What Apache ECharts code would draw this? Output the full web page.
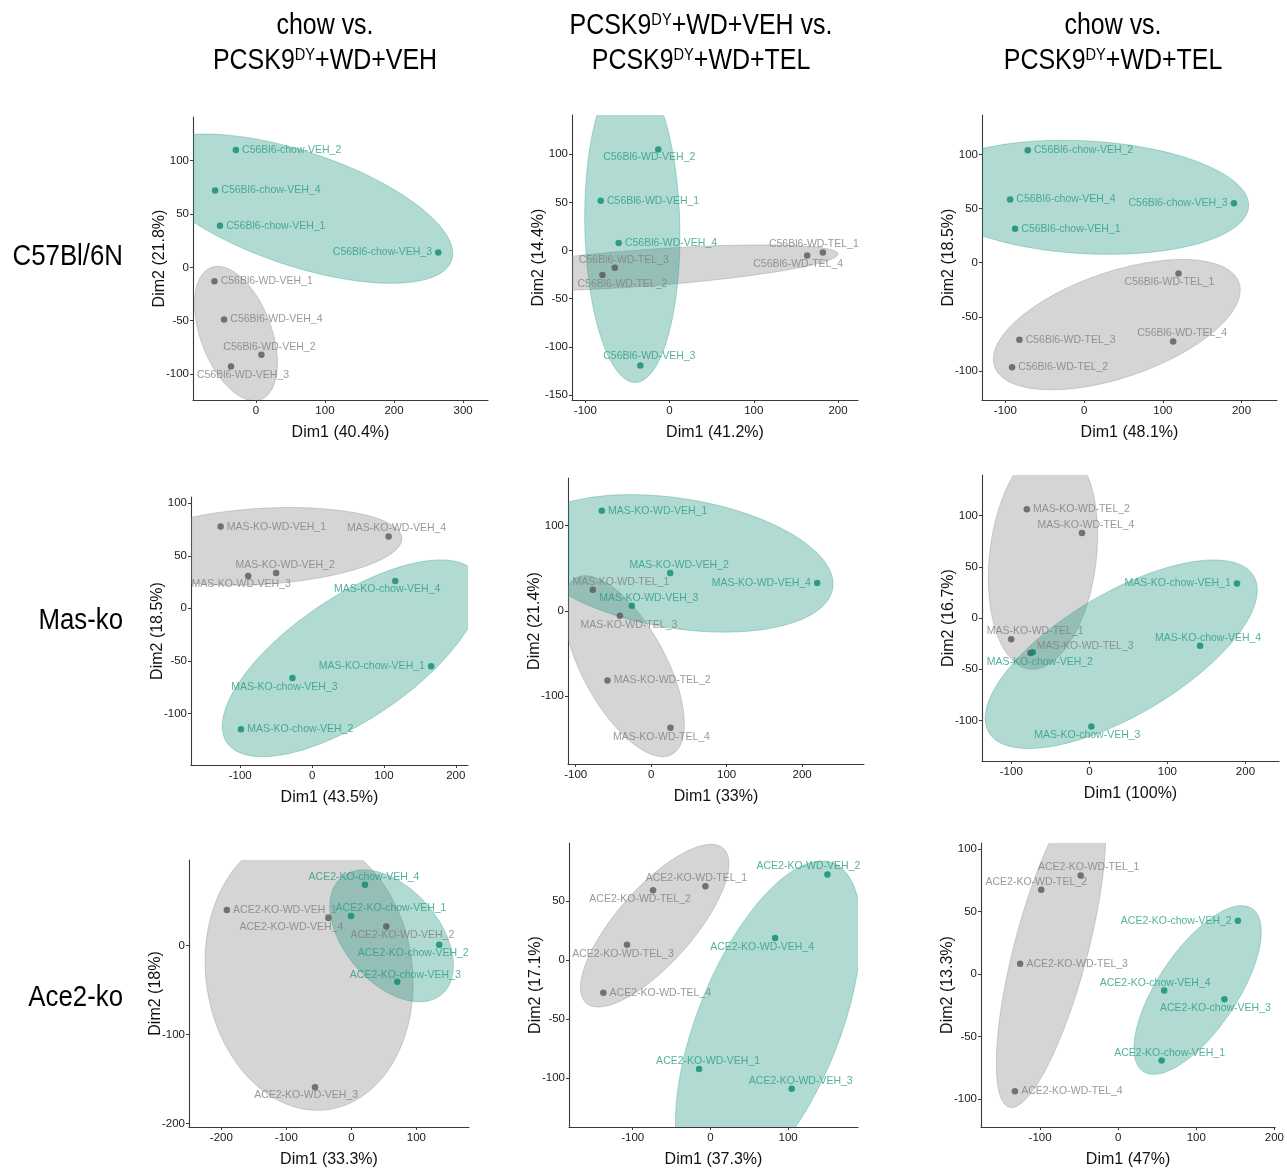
<!DOCTYPE html>
<html>
<head>
<meta charset="utf-8">
<title>PCA individuals</title>
<script src="https://cdn.jsdelivr.net/npm/echarts@6/dist/echarts.min.js"></script>
<style>
html, body { margin: 0; padding: 0; background: #fff; }
#chart { width: 1287px; height: 1169px; }
</style>
</head>
<body>
<div id="chart"></div>
<script>
// ---------- data ----------
// group: 1 = teal condition, 0 = grey condition
// ellipses: [cx, cy, rx, ry, rho, group]  (data units; rho sets the tilt)

// row 1, C57Bl/6N
const p1Names = ['C56Bl6-chow-VEH_2', 'C56Bl6-chow-VEH_4', 'C56Bl6-chow-VEH_1', 'C56Bl6-chow-VEH_3', 'C56Bl6-WD-VEH_1', 'C56Bl6-WD-VEH_4', 'C56Bl6-WD-VEH_2', 'C56Bl6-WD-VEH_3'];
const p1X = [-29, -59, -52, 264, -60, -46, 8, -36];
const p1Y = [110, 72, 39, 14, -13, -49, -82, -93];
const p1Group = [1, 1, 1, 1, 0, 0, 0, 0];
const p1Ellipses = [[-28.8, -62, 60, 63, -0.44, 0], [61.5, 55, 223.5, 70, -0.6, 1]];

const p2Names = ['C56Bl6-WD-VEH_2', 'C56Bl6-WD-VEH_1', 'C56Bl6-WD-VEH_4', 'C56Bl6-WD-VEH_3', 'C56Bl6-WD-TEL_1', 'C56Bl6-WD-TEL_4', 'C56Bl6-WD-TEL_3', 'C56Bl6-WD-TEL_2'];
const p2X = [-13.4, -81.7, -60.4, -34.7, 182, 163.4, -65, -79.7];
const p2Y = [104.8, 51.7, 7.9, -119.3, -2, -5.2, -18, -25.5];
const p2Group = [1, 1, 1, 1, 0, 0, 0, 0];
const p2Ellipses = [[-30, -18.1, 230, 23.9, 0.607, 0], [-44.2, 25, 56.5, 162, -0.06, 1]];

const p3Names = ['C56Bl6-chow-VEH_2', 'C56Bl6-chow-VEH_4', 'C56Bl6-chow-VEH_1', 'C56Bl6-chow-VEH_3', 'C56Bl6-WD-TEL_1', 'C56Bl6-WD-TEL_4', 'C56Bl6-WD-TEL_3', 'C56Bl6-WD-TEL_2'];
const p3X = [-71.6, -94, -87.7, 190.3, 119.9, 113.1, -82.2, -91.5];
const p3Y = [103.9, 58.3, 31.4, 54.9, -9.9, -72.7, -71.2, -96.5];
const p3Group = [1, 1, 1, 1, 0, 0, 0, 0];
const p3Ellipses = [[41.5, -57.2, 156.8, 60.2, 0.53, 0], [2, 60.4, 207, 52.7, -0.14, 1]];

// row 2, Mas-ko
const p4Names = ['MAS-KO-WD-VEH_1', 'MAS-KO-WD-VEH_4', 'MAS-KO-WD-VEH_2', 'MAS-KO-WD-VEH_3', 'MAS-KO-chow-VEH_4', 'MAS-KO-chow-VEH_1', 'MAS-KO-chow-VEH_3', 'MAS-KO-chow-VEH_2'];
const p4X = [-127.3, 106.5, -50, -88.9, 115.7, 165.7, -27.3, -99];
const p4Y = [77.8, 68.3, 33.7, 30.8, 26, -55.2, -66.3, -115.2];
const p4Group = [0, 0, 0, 0, 1, 1, 1, 1];
const p4Ellipses = [[-70, 59, 195, 37, 0.2, 0], [55, -47.6, 180, 93.7, 0.69, 1]];

const p5Names = ['MAS-KO-WD-VEH_1', 'MAS-KO-WD-VEH_2', 'MAS-KO-WD-VEH_4', 'MAS-KO-WD-VEH_3', 'MAS-KO-WD-TEL_1', 'MAS-KO-WD-TEL_3', 'MAS-KO-WD-TEL_2', 'MAS-KO-WD-TEL_4'];
const p5X = [-65.4, 25.2, 220, -25.6, -77.3, -41.5, -57.9, 25.6];
const p5Y = [117.6, 44.3, 32.5, 5.9, 24.7, -5.9, -82, -137.3];
const p5Group = [1, 1, 1, 1, 0, 0, 0, 0];
const p5Ellipses = [[-36, -65.1, 80, 106.3, -0.64, 0], [35, 55.7, 206, 80.8, -0.3, 1]];

const p6Names = ['MAS-KO-WD-TEL_2', 'MAS-KO-WD-TEL_4', 'MAS-KO-WD-TEL_1', 'MAS-KO-WD-TEL_3', 'MAS-KO-chow-VEH_1', 'MAS-KO-chow-VEH_4', 'MAS-KO-chow-VEH_2', 'MAS-KO-chow-VEH_3'];
const p6X = [-80.1, -9.4, -100.1, -75.4, 189.2, 141.9, -72.4, 2.6];
const p6Y = [106.2, 83, -20.8, -34.2, 33.6, -27, -33.5, -105.9];
const p6Group = [0, 0, 0, 0, 1, 1, 1, 1];
const p6Ellipses = [[-59.4, 60, 70, 110, 0.19, 0], [40.9, -35.4, 174.3, 92.1, 0.68, 1]];

// row 3, Ace2-ko
const p7Names = ['ACE2-KO-WD-VEH_1', 'ACE2-KO-WD-VEH_4', 'ACE2-KO-WD-VEH_2', 'ACE2-KO-WD-VEH_3', 'ACE2-KO-chow-VEH_4', 'ACE2-KO-chow-VEH_1', 'ACE2-KO-chow-VEH_2', 'ACE2-KO-chow-VEH_3'];
const p7X = [-191.5, -35.3, 53.8, -55.8, 21, -0.5, 135.2, 70.7];
const p7Y = [40, 31.1, 21.5, -158.9, 68.5, 33.3, 1.1, -40.4];
const p7Group = [0, 0, 0, 0, 1, 1, 1, 1];
const p7Ellipses = [[-65, -30, 160, 155, -0.08, 0], [62, 11.1, 95, 74.1, -0.45, 1]];

const p8Names = ['ACE2-KO-WD-TEL_1', 'ACE2-KO-WD-TEL_2', 'ACE2-KO-WD-TEL_3', 'ACE2-KO-WD-TEL_4', 'ACE2-KO-WD-VEH_2', 'ACE2-KO-WD-VEH_4', 'ACE2-KO-WD-VEH_1', 'ACE2-KO-WD-VEH_3'];
const p8X = [-6.4, -73.8, -107.3, -137.8, 150.6, 83.3, -14.6, 104.7];
const p8Y = [62.6, 59.2, 13.1, -27.7, 72.6, 18.7, -92.2, -108.9];
const p8Group = [0, 0, 0, 0, 1, 1, 1, 1];
const p8Ellipses = [[-71.7, 29.2, 95.5, 68.9, 0.76, 0], [74.5, -56, 119.4, 140, 0.578, 1]];

const p9Names = ['ACE2-KO-WD-TEL_1', 'ACE2-KO-WD-TEL_2', 'ACE2-KO-WD-TEL_3', 'ACE2-KO-WD-TEL_4', 'ACE2-KO-chow-VEH_2', 'ACE2-KO-chow-VEH_4', 'ACE2-KO-chow-VEH_3', 'ACE2-KO-chow-VEH_1'];
const p9X = [-48, -98.5, -125.5, -132.2, 153.3, 58.9, 136, 55.6];
const p9Y = [79, 67.6, 8.2, -93.9, 42.6, -13.3, -20.2, -69.4];
const p9Group = [0, 0, 0, 0, 1, 1, 1, 1];
const p9Ellipses = [[-86, 20, 70, 127, 0.72, 0], [101.7, -12.8, 81.5, 67.6, 0.69, 1]];

// axis titles, ranges and tick labels
const xNames = ['Dim1 (40.4%)', 'Dim1 (41.2%)', 'Dim1 (48.1%)', 'Dim1 (43.5%)', 'Dim1 (33%)', 'Dim1 (100%)', 'Dim1 (33.3%)', 'Dim1 (37.3%)', 'Dim1 (47%)'];
const yNames = ['Dim2 (21.8%)', 'Dim2 (14.4%)', 'Dim2 (18.5%)', 'Dim2 (18.5%)', 'Dim2 (21.4%)', 'Dim2 (16.7%)', 'Dim2 (18%)', 'Dim2 (17.1%)', 'Dim2 (13.3%)'];
const xRanges = [[-91, 336], [-115.8, 223.7], [-129.7, 245], [-168.5, 217], [-110.2, 282], [-137.5, 243], [-249.7, 181], [-182, 190], [-175.6, 201]];
const yRanges = [[-124.4, 141], [-155.2, 140.7], [-126.8, 136.4], [-149.2, 106], [-180, 156], [-139.7, 139.7], [-203.7, 96.3], [-141.3, 99.2], [-122.6, 105]];
const xTicks = [[0, 100, 200, 300], [-100, 0, 100, 200], [-100, 0, 100, 200], [-100, 0, 100, 200], [-100, 0, 100, 200], [-100, 0, 100, 200], [-200, -100, 0, 100], [-100, 0, 100], [-100, 0, 100, 200]];
const yTicks = [[-100, -50, 0, 50, 100], [-150, -100, -50, 0, 50, 100], [-100, -50, 0, 50, 100], [-100, -50, 0, 50, 100], [-100, 0, 100], [-100, -50, 0, 50, 100], [-200, -100, 0], [-100, -50, 0, 50], [-100, -50, 0, 50, 100]];

const colTitles = [['chow vs.', 'PCSK9{s|DY}+WD+VEH'], ['PCSK9{s|DY}+WD+VEH vs.', 'PCSK9{s|DY}+WD+TEL'], ['chow vs.', 'PCSK9{s|DY}+WD+TEL']];
const rowTitles = ['C57Bl/6N', 'Mas-ko', 'Ace2-ko'];

// ---------- layout / style ----------
const FONT = "'Liberation Sans', Arial, sans-serif";
const NARROW = 0.86; // squeeze headings to look like the condensed face of the original
const DOT = ['#575757', '#0c8a6f'];
const TEXT = ['#7f7f7f', '#2a9c84'];
const FILL = ['rgba(140,140,140,0.37)', 'rgba(26,150,124,0.34)'];
const EDGE = ['rgba(110,110,110,0.35)', 'rgba(26,150,124,0.4)'];

// plot boxes [left, top, right, bottom] in px
const boxes = [
    [193, 117, 488, 400], [572, 115, 858, 400], [982, 115, 1277, 400],
    [191, 497, 468, 765], [568, 478, 864, 764], [982, 475, 1279, 761],
    [189, 860, 469, 1130], [569, 843, 858, 1130], [981, 843, 1278, 1128]
];

// label placement: ['r'] right, ['l'] left, ['r', dy], ['c', dx, dy] centred + offset
const places = [
    [['r'], ['r'], ['r'], ['l'], ['r'], ['r'], ['c', 8, -8], ['c', 12, 9]],
    [['c', -9, 8], ['r'], ['r'], ['c', 9, -9], ['c', -9, -8], ['c', -9, 9], ['c', 9, -8], ['c', 20, 9]],
    [['r'], ['r'], ['r'], ['l'], ['c', -9, 9], ['c', 9, -8], ['r'], ['r']],
    [['r'], ['c', 8, -8], ['c', 9, -8], ['c', -7, 8], ['c', -8, 8], ['l'], ['c', -8, 9], ['r']],
    [['r'], ['c', 9, -8], ['l'], ['c', 17, -8], ['c', 28, -8], ['c', 9, 9], ['r'], ['c', -9, 9]],
    [['r'], ['c', 4, -8], ['c', 24, -8], ['r', -7], ['l'], ['c', 8, -8], ['c', 7, 10], ['c', -4, 9]],
    [['r'], ['c', -37, 9], ['c', 16, 9], ['c', -9, 8], ['c', -1, -8], ['c', 40, -8], ['c', -26, 8], ['c', 8, -7]],
    [['c', -9, -8], ['c', -13, 9], ['c', -4, 9], ['r'], ['c', -19, -8], ['c', -13, 9], ['c', 9, -8], ['c', 9, -8]],
    [['c', 8, -8], ['c', -5, -8], ['r'], ['r'], ['l'], ['c', -9, -8], ['c', -9, 9], ['c', 8, -8]]
];

const panels = [
    [p1Names, p1X, p1Y, p1Group, p1Ellipses],
    [p2Names, p2X, p2Y, p2Group, p2Ellipses],
    [p3Names, p3X, p3Y, p3Group, p3Ellipses],
    [p4Names, p4X, p4Y, p4Group, p4Ellipses],
    [p5Names, p5X, p5Y, p5Group, p5Ellipses],
    [p6Names, p6X, p6Y, p6Group, p6Ellipses],
    [p7Names, p7X, p7Y, p7Group, p7Ellipses],
    [p8Names, p8X, p8Y, p8Group, p8Ellipses],
    [p9Names, p9X, p9Y, p9Group, p9Ellipses]
];

function labelFor(p, g) {
    const base = {
        show: true, formatter: '{b}', color: TEXT[g],
        fontSize: 10.5, fontFamily: FONT
    };
    if (p[0] === 'r') return Object.assign(base, { position: 'right', distance: 3, offset: [0, p[1] || 0] });
    if (p[0] === 'l') return Object.assign(base, { position: 'left', distance: 3, offset: [0, p[1] || 0] });
    return Object.assign(base, { position: 'inside', offset: [p[1], p[2]] });
}

// ellipse outline in data space, mapped through the axes
function renderEllipse(params, api) {
    const cx = api.value(0), cy = api.value(1), rx = api.value(2), ry = api.value(3);
    const phi = Math.acos(api.value(4));
    const g = api.value(5);
    const pts = [];
    for (let k = 0; k <= 120; k++) {
        const t = (2 * Math.PI * k) / 120;
        pts.push(api.coord([cx + rx * Math.cos(t), cy + ry * Math.cos(t - phi)]));
    }
    return {
        type: 'polygon',
        shape: { points: pts },
        style: { fill: FILL[g], stroke: EDGE[g], lineWidth: 0.8 }
    };
}

const grid = [], xAxis = [], yAxis = [], series = [];
const axisLine = { show: true, onZero: false, lineStyle: { color: '#3a3a3a', width: 1.1 } };

panels.forEach(([names, xs, ys, groups, ells], i) => {
    const b = boxes[i];
    grid.push({ left: b[0], top: b[1], width: b[2] - b[0], height: b[3] - b[1] });
    xAxis.push({
        gridIndex: i, type: 'value', min: xRanges[i][0], max: xRanges[i][1],
        axisLine: axisLine,
        axisTick: { show: true, length: 3, customValues: xTicks[i], lineStyle: { color: '#3a3a3a' } },
        axisLabel: { customValues: xTicks[i], color: '#1a1a1a', fontSize: 11.5, fontFamily: FONT, margin: 5 },
        splitLine: { show: false },
        name: xNames[i], nameLocation: 'middle', nameGap: 25, nameMoveOverlap: false,
        nameTextStyle: { color: '#111', fontSize: 16, fontFamily: FONT }
    });
    yAxis.push({
        gridIndex: i, type: 'value', min: yRanges[i][0], max: yRanges[i][1],
        axisLine: axisLine,
        axisTick: { show: true, length: 3, customValues: yTicks[i], lineStyle: { color: '#3a3a3a' } },
        axisLabel: { customValues: yTicks[i], color: '#1a1a1a', fontSize: 11.5, fontFamily: FONT, margin: 4 },
        splitLine: { show: false },
        name: yNames[i], nameLocation: 'middle', nameGap: 25, nameMoveOverlap: false,
        nameTextStyle: { color: '#111', fontSize: 16, fontFamily: FONT }
    });
    series.push({
        type: 'custom', xAxisIndex: i, yAxisIndex: i, clip: true, silent: true, z: 1,
        renderItem: renderEllipse,
        data: ells
    });
    series.push({
        type: 'scatter', xAxisIndex: i, yAxisIndex: i, z: 3, symbol: 'circle', symbolSize: 6.5,
        data: names.map((n, k) => ({
            name: n,
            value: [xs[k], ys[k]],
            itemStyle: { color: DOT[groups[k]] },
            label: labelFor(places[i][k], groups[k])
        }))
    });
});

// column and row headings
const colCenters = [325, 701, 1113];
const rowCenters = [257, 621, 998];
const supRich = { s: { fontSize: 17, fontFamily: FONT, fill: '#000', verticalAlign: 'top', lineHeight: 17 } };
const graphic = [];
colTitles.forEach((lines, c) => {
    lines.forEach((txt, l) => {
        graphic.push({
            type: 'text', x: colCenters[c], y: l === 0 ? 26 : 61, scaleX: NARROW,
            style: {
                text: txt, fill: '#000', fontSize: 29, fontFamily: FONT,
                align: 'center', verticalAlign: 'middle', rich: supRich
            }
        });
    });
});
rowTitles.forEach((txt, r) => {
    graphic.push({
        type: 'text', x: 123, y: rowCenters[r], scaleX: NARROW,
        style: { text: txt, fill: '#000', fontSize: 30, fontFamily: FONT, align: 'right', verticalAlign: 'middle' }
    });
});

const chart = echarts.init(document.getElementById('chart'));
chart.setOption({
    animation: false,
    backgroundColor: '#fff',
    grid: grid,
    xAxis: xAxis,
    yAxis: yAxis,
    graphic: graphic,
    series: series
});
</script>
</body>
</html>
